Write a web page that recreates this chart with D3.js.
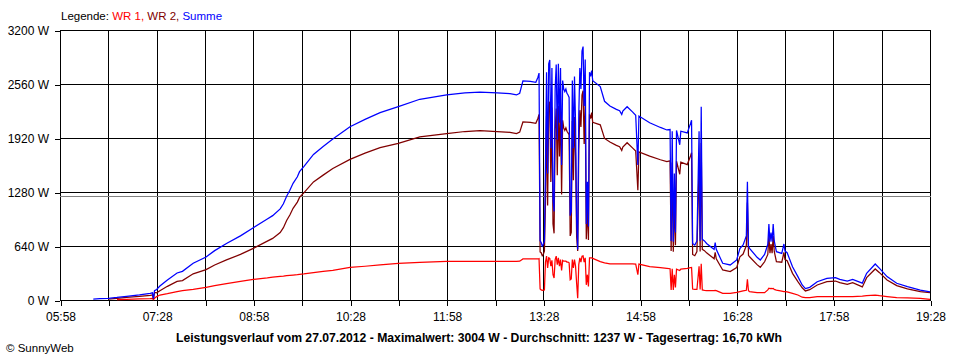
<!DOCTYPE html>
<html><head><meta charset="utf-8">
<script src="https://cdn.jsdelivr.net/npm/d3@7"></script>
<style>
body{margin:0;background:#fff}
svg{display:block}
text{font-family:"Liberation Sans",Arial,sans-serif}
</style></head>
<body><svg id="c" width="960" height="360"></svg>
<script>
// ---- data ----
const times = [
"06:29","06:35","06:43","06:51","07:00","07:12","07:22","07:24","07:25","07:26","07:28","07:31","07:38","07:47","07:52",
"08:02","08:14","08:22","08:33","08:46","08:58","09:11","09:16","09:23","09:26","09:29","09:32","09:35","09:39","09:41",
"09:45","09:54","10:03","10:12","10:28","10:42","10:56","11:13","11:33","11:58","12:15","12:29","12:45","12:57","13:03",
"13:06","13:09","13:16","13:21","13:23","13:24",
"13:25","13:26","13:27","13:28","13:29","13:30","13:31","13:32","13:33","13:34","13:35","13:36","13:37","13:38","13:39",
"13:40","13:41","13:42","13:43","13:44","13:45","13:46","13:47","13:48","13:49","13:50","13:51","13:52","13:53","13:54",
"13:55","13:56","13:57","13:58","13:59","14:00","14:01","14:02","14:03","14:04","14:05","14:06","14:07","14:08","14:09",
"14:10","14:11","14:12","14:13",
"14:14","14:21","14:25","14:30","14:36","14:39","14:41","14:42","14:46","14:51","14:54","14:56","14:57","15:07","15:17",
"15:23","15:26","15:27","15:28","15:29","15:30","15:31","15:32","15:35","15:36","15:42","15:45","15:46","15:47","15:49",
"15:51","15:53","15:54","15:55","15:56","15:58","16:00","16:05","16:07","16:08","16:09","16:15","16:22","16:28","16:31",
"16:34","16:37","16:38","16:39","16:40","16:47","16:50","16:54","16:57","16:58","16:59","17:00","17:01","17:02","17:03",
"17:05","17:10","17:12","17:13","17:15","17:20","17:25","17:29","17:32","17:36","17:43","17:52","18:00","18:04","18:11",
"18:16","18:25","18:29","18:37","18:41","18:48","18:57","19:07","19:19","19:28"
];
const wr1 = [
null,null,null,5,8,12,15,18,5,20,40,59,75,99,110,
125,150,170,195,220,245,262,270,280,283,288,292,296,300,305,
310,325,340,350,387,400,415,434,445,458,458,458,458,458,458,
460,486,486,486,486,490,
130,120,115,118,120,450,520,380,500,494,400,470,300,260,480,
520,420,500,400,480,350,470,460,460,460,450,450,440,240,250,
480,380,480,400,200,20,420,500,450,520,524,450,500,180,300,
160,500,500,500,
494,454,440,427,427,427,427,427,427,427,425,300,425,395,383,
375,371,120,370,118,300,150,365,350,365,375,383,385,130,125,
125,400,125,430,120,115,111,111,111,115,111,79,79,90,99,
107,115,245,110,100,87,87,87,120,140,135,138,136,138,125,
118,105,100,100,95,79,59,33,28,28,39,40,40,40,40,
40,45,51,59,51,40,28,26,20,8
];
const wr2 = [
null,null,10,20,32,42,55,60,10,90,85,110,162,220,230,
310,360,415,475,540,612,698,730,800,857,942,1008,1087,1160,1216,
1270,1400,1480,1558,1667,1740,1805,1857,1934,1972,1997,2007,1997,1987,1972,
1990,2110,2104,2094,2154,2200,
570,560,525,542,580,1150,2180,1120,2300,2350,1400,2280,900,790,2020,
2270,1480,2300,1700,2270,1250,2130,2040,2010,2040,2000,1980,1960,760,800,
2120,1420,2170,1700,750,580,1780,2250,2050,2430,2480,1850,2350,720,1100,
710,2200,2150,2220,
2106,2076,1915,1873,1833,1817,1773,1813,1864,1803,1765,1300,1755,1705,1662,
1640,1649,580,1630,572,1200,650,1645,1490,1635,1605,1707,1745,540,525,
575,1600,575,1860,600,585,559,509,489,565,489,356,336,384,511,
545,645,1155,530,512,419,387,453,540,760,555,662,555,762,575,
455,448,564,480,465,316,218,145,107,122,178,217,225,205,185,
205,155,265,368,324,237,170,132,98,87
];
const summe = [
10,15,20,30,44,60,79,85,15,110,125,165,237,320,340,
435,510,585,670,760,857,960,1000,1080,1140,1230,1300,1383,1460,1521,
1580,1725,1820,1908,2054,2140,2220,2291,2379,2430,2455,2465,2455,2445,2430,
2450,2596,2590,2580,2640,2690,
700,680,640,660,700,1600,2700,1500,2800,2844,1800,2750,1200,1050,2500,
2790,1900,2800,2100,2750,1600,2600,2500,2470,2500,2450,2430,2400,1000,1050,
2600,1800,2650,2100,950,600,2200,2750,2500,2950,3004,2300,2850,900,1400,
870,2700,2650,2720,
2600,2530,2355,2300,2260,2244,2200,2240,2291,2230,2190,1600,2180,2100,2045,
2015,2020,700,2000,690,1500,800,2010,1840,2000,1980,2090,2130,670,650,
700,2000,700,2290,720,700,670,620,600,680,600,435,415,474,610,
652,760,1400,640,612,506,474,540,660,900,690,800,691,900,700,
573,553,664,580,560,395,277,178,135,150,217,257,265,245,225,
245,200,316,427,375,277,198,158,118,95
];
const average = 1237;
const seriesNames = ["WR 1", "WR 2", "Summe"];
const seriesColors = ["#ff0000", "#800000", "#0000ff"];
const xTickTimes = ["05:58","06:43","07:28","08:13","08:58","09:43","10:28","11:13","11:58","12:43",
                    "13:28","14:13","14:58","15:43","16:28","17:13","17:58","18:43","19:28"];
const xLabelTimes = ["05:58","07:28","08:58","10:28","11:58","13:28","14:58","16:28","17:58","19:28"];
const yTicks = [0, 640, 1280, 1920, 2560, 3200];
const title = "Leistungsverlauf vom 27.07.2012 - Maximalwert: 3004 W - Durchschnitt: 1237 W - Tagesertrag: 16,70 kWh";

// ---- chart ----
const parse = d3.timeParse("%H:%M");
const fmt = d3.timeFormat("%H:%M");
const svg = d3.select("#c");
const L = 60, R = 930, T = 30, B = 300;
const x = d3.scaleTime().domain([parse("05:58"), parse("19:28")]).range([L, R]);
const y = d3.scaleLinear().domain([0, 3200]).range([B, T]);
const px = v => Math.round(v) + 0.5;

// grid
const g = svg.append("g").attr("shape-rendering", "crispEdges");
g.selectAll("line.v").data(xTickTimes).join("line")
  .attr("x1", d => px(x(parse(d)))).attr("x2", d => px(x(parse(d))))
  .attr("y1", T).attr("y2", B).attr("stroke", "#000");
g.selectAll("line.h").data(yTicks).join("line")
  .attr("x1", L).attr("x2", R + 1)
  .attr("y1", d => px(y(d))).attr("y2", d => px(y(d))).attr("stroke", "#000");
g.append("line").attr("x1", L).attr("x2", R + 1)
  .attr("y1", px(y(average))).attr("y2", px(y(average))).attr("stroke", "#808080");

// axes
const xAxis = d3.axisBottom(x).tickValues(xTickTimes.map(parse))
  .tickSize(5).tickPadding(7)
  .tickFormat(d => xLabelTimes.includes(fmt(d)) ? fmt(d) : "");
const ax = svg.append("g").attr("transform", `translate(0.5,${B + 0.5})`).call(xAxis);
ax.select(".domain").remove();
ax.selectAll("line").attr("shape-rendering", "crispEdges").attr("stroke", "#000");
ax.selectAll("text").attr("font-size", 12).attr("fill", "#000");

const yAxis = d3.axisLeft(y).tickValues(yTicks).tickSize(5).tickPadding(6).tickFormat(d => d + " W");
const ay = svg.append("g").attr("transform", `translate(${L},0.5)`).call(yAxis);
ay.select(".domain").remove();
ay.selectAll("line").attr("shape-rendering", "crispEdges").attr("stroke", "#000");
ay.selectAll("text").attr("font-size", 12).attr("fill", "#000");

// lines
const seriesVals = [wr1, wr2, summe];
const line = d3.line().defined(d => d.v != null).x(d => x(d.t)).y(d => y(d.v));
seriesVals.forEach((vals, i) => {
  const data = times.map((t, j) => ({t: parse(t), v: vals[j]}));
  svg.append("path").datum(data).attr("d", line)
    .attr("fill", "none").attr("stroke", seriesColors[i]).attr("stroke-width", 1.25)
    .attr("stroke-linejoin", "miter");
});

// legend
const lg = svg.append("text").attr("x", 61).attr("y", 20).attr("font-size", 11.5);
lg.append("tspan").attr("fill", "#000").text("Legende: ");
seriesNames.forEach((n, i) => {
  lg.append("tspan").attr("fill", seriesColors[i]).text(n + (i < seriesNames.length - 1 ? ", " : ""));
});

// title
svg.append("text").attr("x", 176).attr("y", 341.5).attr("font-size", 12.2)
  .attr("font-weight", "bold").attr("fill", "#000").text(title);

svg.append("text").attr("x", 6).attr("y", 352).attr("font-size", 11.5).attr("fill", "#000")
  .text("\u00A9 SunnyWeb");
</script>
</body></html>
